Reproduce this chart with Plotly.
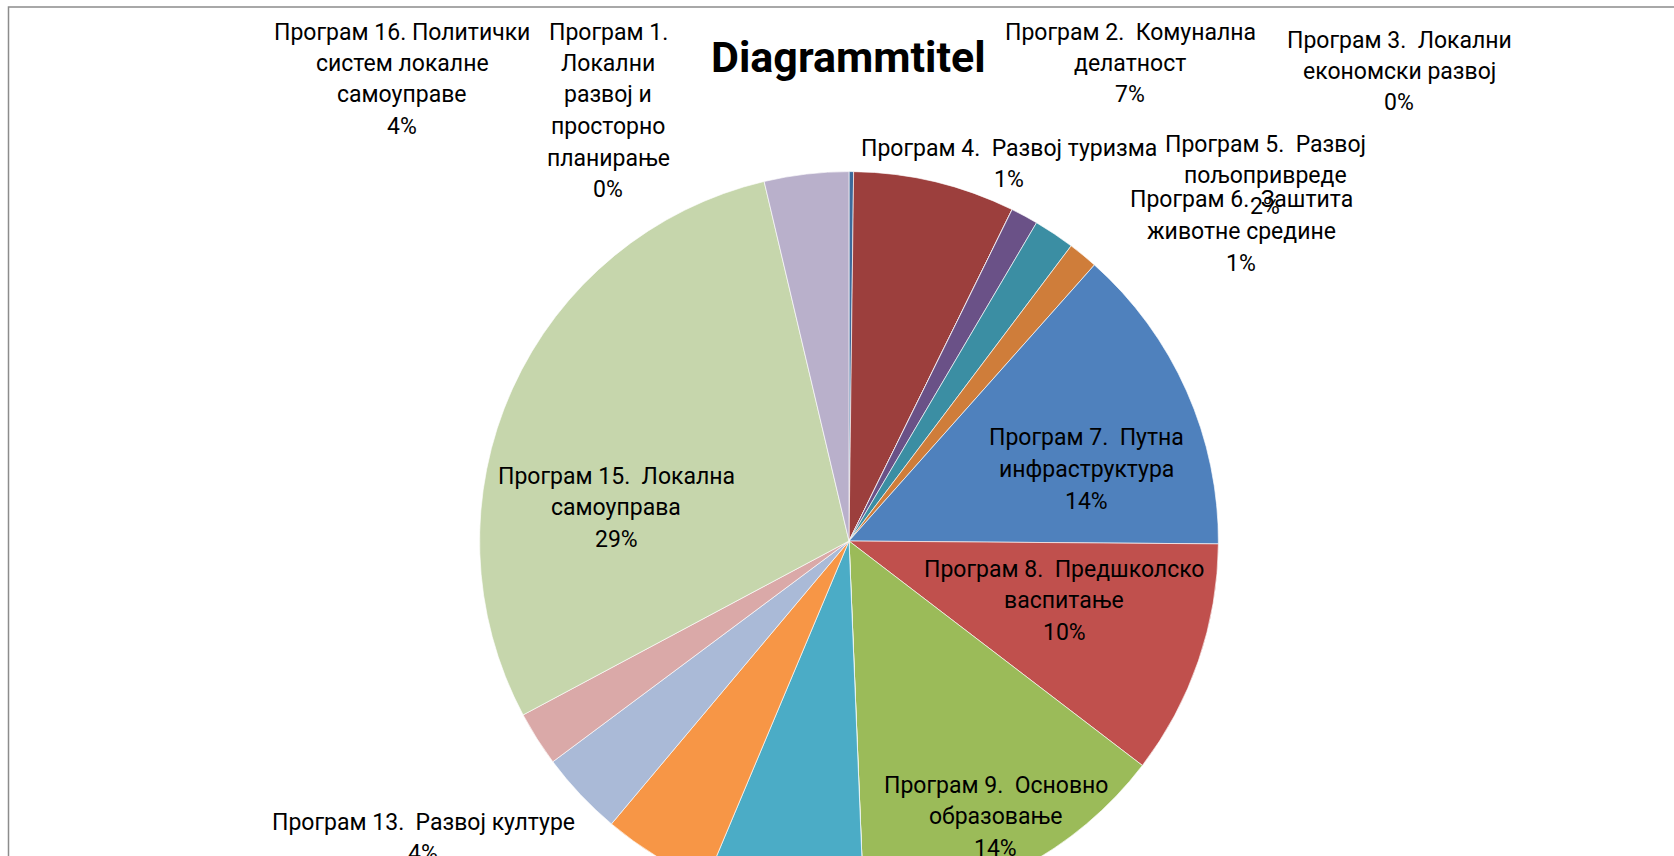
import plotly.graph_objects as go

# ---------------- data ----------------
prog_no = ["Програм 1.", "Програм 2.", "Програм 3.", "Програм 4.", "Програм 5.",
           "Програм 6.", "Програм 7.", "Програм 8.", "Програм 9.", "Програм 10.",
           "Програм 11.", "Програм 12.", "Програм 13.", "Програм 14.", "Програм 15.",
           "Програм 16."]
prog_title = ["Локални развој и просторно планирање", "Комунална делатност",
              "Локални економски развој", "Развој туризма", "Развој пољопривреде",
              "Заштита животне средине", "Путна инфраструктура", "Предшколско васпитање",
              "Основно образовање", "Средње образовање", "Социјална и дечја заштита",
              "Здравствена заштита", "Развој културе", "Развој спорта и омладине",
              "Локална самоуправа", "Политички систем локалне самоуправе"]
shares = [0.2, 7.1, 0.0, 1.2, 1.8, 1.3, 13.6, 10.3, 14.0, 0.0, 7.0, 4.8, 3.7, 2.4, 29.2, 3.7]
chart_title = "Diagrammtitel"

# ---------------- style ----------------
colors = ["#3D6A9B", "#9C3F3D", "#7E9A48", "#6A5187", "#3B8EA3", "#CF7D3A",
          "#4F81BD", "#C0504D", "#9BBB59", "#8064A2", "#4BACC6", "#F79646",
          "#AABAD7", "#DAA9A8", "#C6D6AC", "#B9B0CB"]
W, H = 1674, 1000
CX, CY, R = 849, 541, 369.4
FONT = "Roboto"
LBL = 23
LINE = 31.5

# label placement (pixel centre x, first-line centre y, words per line, separator after number)
label_pos = {
    15: (402, 32, [2, 2, 1], " "),
    0: (608, 32, [1, 1, 2, 1, 1], "  "),
    1: (1130, 32, [2, 1], "  "),
    2: (1399, 40, [2, 2], "  "),
    3: (1009, 148, [3], "  "),
    4: (1265, 144, [2, 1], "  "),
    5: (1241, 200, [2, 2], "  "),
    6: (1086, 438, [2, 1], "  "),
    7: (1064, 569, [2, 1], "  "),
    8: (996, 785, [2, 1], "  "),
    14: (616, 476, [2, 1], "  "),
    12: (423, 822, [3], "  "),
}

total = sum(shares)
names = [n + " " + t for n, t in zip(prog_no, prog_title)]

fig = go.Figure(go.Pie(
    labels=names,
    values=shares,
    sort=False,
    direction="clockwise",
    rotation=0,
    textinfo="none",
    marker=dict(colors=colors, line=dict(color="rgba(255,255,255,0.8)", width=0.8)),
    domain=dict(x=[(CX - R) / W, (CX + R) / W], y=[1 - (CY + R) / H, 1 - (CY - R) / H]),
    showlegend=False,
    hovertemplate="%{label}<br>%{percent}<extra></extra>",
))

annotations = []
for idx, (cx, cy, counts, sep) in label_pos.items():
    words = [prog_no[idx]] + prog_title[idx].split()
    lines, k = [], 0
    for c in counts:
        chunk = words[k:k + c]
        if k == 0 and len(chunk) > 1:
            s = chunk[0] + sep.replace("  ", "\u00a0 ") + " ".join(chunk[1:])
        else:
            s = " ".join(chunk)
        lines.append(s)
        k += c
    lines.append(f"{round(shares[idx] / total * 100)}%")
    for i, s in enumerate(lines):
        annotations.append(dict(
            x=cx / W, y=1 - (cy + i * LINE) / H, xref="paper", yref="paper",
            text=s, showarrow=False, xanchor="center", yanchor="middle",
            font=dict(family=FONT, size=LBL, color="#000000")))

annotations.append(dict(
    x=848 / W, y=1 - 57 / H, xref="paper", yref="paper", text="<b>" + chart_title + "</b>",
    showarrow=False, xanchor="center", yanchor="middle",
    font=dict(family=FONT, size=43, color="#000000")))

fig.update_layout(
    width=W, height=H,
    margin=dict(l=0, r=0, t=0, b=0),
    paper_bgcolor="white", plot_bgcolor="white",
    annotations=annotations,
    shapes=[dict(type="rect", xref="paper", yref="paper",
                 x0=8.5 / W, x1=1.1, y0=-0.2, y1=1 - 7 / H,
                 line=dict(color="#8C8C8C", width=1.5), fillcolor="rgba(0,0,0,0)",
                 layer="below")],
)

post = ("document.documentElement.style.overflow='hidden';"
        "document.body.style.overflow='hidden';document.body.style.margin='0';"
        "var d=document.getElementById('{plot_id}');"
        "d.parentElement.style.height='856px';d.parentElement.style.overflow='hidden';")
fig.write_html("out.html", post_script=post, config={"displayModeBar": False})
